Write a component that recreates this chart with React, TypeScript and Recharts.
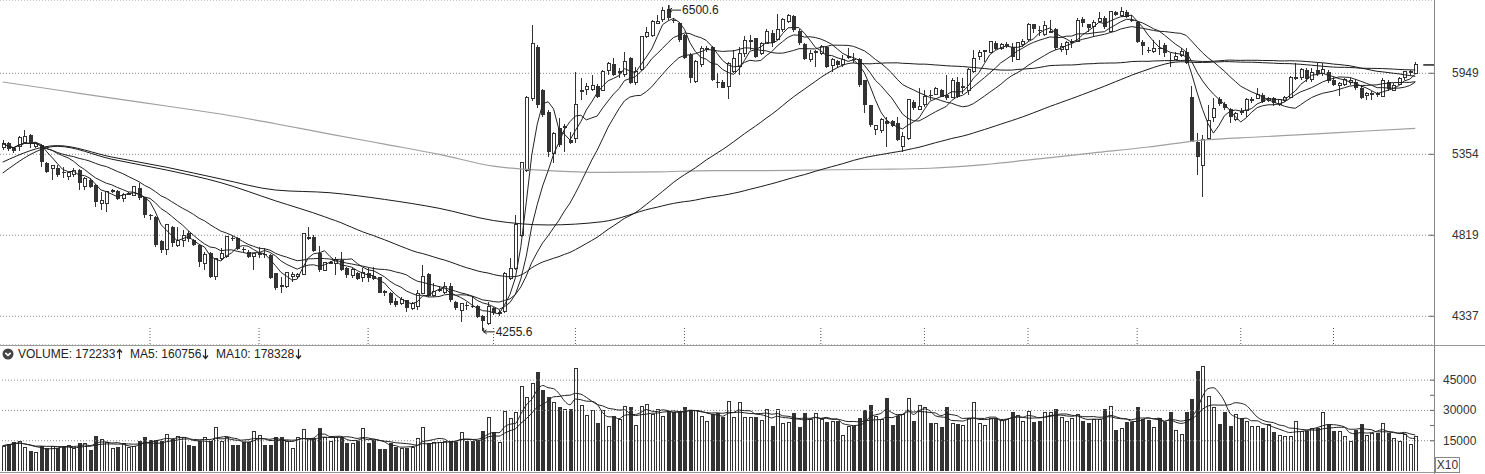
import React from 'react';
import {
  ComposedChart,
  Bar,
  Line,
  XAxis,
  YAxis,
  CartesianGrid,
  ReferenceLine,
  ReferenceDot,
} from 'recharts';

// daily candles (260 sessions)
const opens = [
  5400, 5430, 5395, 5412, 5436, 5490, 5408, 5419, 5292, 5253,
  5258, 5230, 5205, 5212, 5246, 5133, 5178, 5144, 5023, 5020,
  5100, 5105, 5056, 5088, 5078, 5122, 5063, 4945, 4937, 4785,
  4728, 4874, 4755, 4789, 4833, 4789, 4759, 4646, 4707, 4570,
  4676, 4687, 4802, 4799, 4732, 4718, 4687, 4700, 4706, 4697,
  4586, 4515, 4507, 4566, 4566, 4582, 4803, 4806, 4707, 4606,
  4650, 4646, 4666, 4616, 4576, 4590, 4562, 4590, 4570, 4562,
  4484, 4469, 4425, 4407, 4430, 4382, 4391, 4469, 4582, 4453,
  4486, 4475, 4510, 4420, 4372, 4403, 4395, 4395, 4338, 4297,
  4382, 4350, 4363, 4556, 4616, 4820, 5241, 5758, 6159, 5821,
  5660, 5361, 5538, 5545, 5455, 5467, 5815, 5823, 5823, 5853,
  5821, 5970, 6022, 5960, 5936, 6066, 5880, 5975, 6240, 6250,
  6350, 6376, 6465, 6378, 6348, 6253, 6092, 5885, 6014, 6137,
  6155, 5880, 5884, 5850, 5962, 6001, 6105, 6200, 6225, 6105,
  6185, 6270, 6217, 6294, 6362, 6408, 6288, 6180, 6058, 6118,
  6105, 6155, 6006, 6047, 6014, 6073, 6060, 6058, 5897, 5709,
  5530, 5521, 5588, 5588, 5580, 5408, 5467, 5734, 5672, 5709,
  5785, 5790, 5818, 5783, 5765, 5885, 5845, 5821, 5962, 6079,
  6120, 6113, 6190, 6145, 6165, 6159, 6060, 6180, 6217, 6340,
  6296, 6253, 6275, 6303, 6138, 6138, 6195, 6204, 6381, 6340,
  6323, 6362, 6395, 6280, 6445, 6417, 6445, 6378, 6356, 6198,
  6135, 6118, 6146, 6172, 6055, 6058, 6088, 6118, 5771, 5443,
  5280, 5467, 5620, 5751, 5716, 5677, 5605, 5667, 5667, 5748,
  5758, 5783, 5741, 5758, 5716, 5741, 5765, 5918, 5913, 5975,
  5900, 5975, 5944, 5962, 5897, 5859, 5864, 5877, 5885, 5840,
  5783, 5795, 5796, 5771, 5885, 5821, 5864, 5913, 5960, 5949,
];

const highs = [
  5455, 5440, 5405, 5480, 5526, 5495, 5440, 5425, 5300, 5282,
  5280, 5269, 5232, 5258, 5250, 5195, 5190, 5150, 5100, 5105,
  5115, 5110, 5090, 5100, 5140, 5160, 5065, 4955, 4940, 4790,
  4890, 4880, 4874, 4852, 4843, 4795, 4765, 4718, 4715, 4680,
  4738, 4815, 4815, 4810, 4745, 4728, 4712, 4749, 4738, 4700,
  4590, 4566, 4595, 4596, 4590, 4834, 4874, 4820, 4755, 4655,
  4660, 4687, 4718, 4626, 4616, 4596, 4616, 4616, 4626, 4566,
  4490, 4475, 4440, 4449, 4432, 4420, 4488, 4636, 4590, 4527,
  4510, 4537, 4527, 4425, 4412, 4420, 4453, 4400, 4345, 4420,
  4391, 4370, 4596, 4676, 4948, 5303, 5775, 6334, 6170, 5830,
  5672, 5510, 5610, 5572, 5514, 5962, 5910, 5878, 5936, 5867,
  5975, 6040, 6066, 5988, 6118, 6080, 6001, 6245, 6320, 6376,
  6417, 6486, 6500.6, 6390, 6362, 6260, 6105, 6050, 6160, 6160,
  6160, 5948, 5897, 6035, 6132, 6159, 6244, 6253, 6230, 6198,
  6300, 6294, 6430, 6390, 6430, 6417, 6300, 6185, 6132, 6132,
  6172, 6165, 6066, 6053, 6092, 6145, 6105, 6066, 5900, 5712,
  5557, 5610, 5623, 5595, 5623, 5514, 5750, 5746, 5834, 5821,
  5821, 5845, 5830, 5936, 5910, 5923, 5910, 5988, 6132, 6132,
  6130, 6205, 6205, 6185, 6200, 6190, 6195, 6217, 6350, 6345,
  6330, 6368, 6376, 6310, 6190, 6205, 6217, 6390, 6397, 6345,
  6376, 6445, 6408, 6455, 6455, 6486, 6459, 6417, 6365, 6212,
  6159, 6212, 6212, 6185, 6105, 6118, 6145, 6145, 5851, 5502,
  5490, 5709, 5758, 5770, 5734, 5690, 5660, 5685, 5758, 5770,
  5840, 5795, 5765, 5770, 5756, 5775, 5926, 6030, 5988, 5988,
  5988, 6030, 6030, 5975, 5923, 5885, 5915, 5910, 5902, 5851,
  5808, 5815, 5808, 5910, 5897, 5872, 5923, 5970, 5975, 6035,
];

const lows = [
  5385, 5375, 5365, 5375, 5430, 5396, 5400, 5269, 5228, 5178,
  5200, 5190, 5178, 5200, 5111, 5111, 5122, 5001, 4980, 4969,
  5090, 5045, 5034, 5080, 5075, 5045, 4927, 4916, 4749, 4707,
  4697, 4749, 4749, 4745, 4780, 4755, 4626, 4606, 4556, 4547,
  4666, 4680, 4785, 4728, 4712, 4680, 4606, 4676, 4676, 4550,
  4488, 4472, 4500, 4537, 4560, 4576, 4789, 4718, 4597, 4600,
  4640, 4576, 4600, 4556, 4556, 4545, 4537, 4537, 4547, 4468,
  4453, 4401, 4391, 4401, 4363, 4375, 4372, 4465, 4450, 4449,
  4475, 4466, 4420, 4375, 4306, 4372, 4382, 4330, 4255.6, 4288,
  4344, 4340, 4355, 4547, 4606, 4810, 5230, 5740, 5690, 5623,
  5338, 5292, 5408, 5370, 5425, 5430, 5746, 5785, 5810, 5758,
  5810, 5936, 5928, 5910, 5923, 5865, 5859, 5965, 6225, 6240,
  6343, 6362, 6380, 6350, 6200, 6060, 5872, 5878, 6001, 6118,
  5890, 5833, 5833, 5751, 5948, 5936, 6079, 6132, 6066, 6092,
  6180, 6159, 6212, 6280, 6350, 6280, 6172, 6055, 6040, 6001,
  6092, 5988, 5962, 5988, 6001, 6058, 6027, 5846, 5647, 5550,
  5490, 5502, 5408, 5545, 5450, 5372, 5455, 5672, 5670, 5697,
  5746, 5780, 5765, 5746, 5758, 5758, 5790, 5783, 5948, 6053,
  6040, 6105, 6132, 6135, 6150, 6040, 6055, 6159, 6207, 6270,
  6248, 6245, 6265, 6132, 6120, 6092, 6145, 6198, 6320, 6280,
  6240, 6356, 6305, 6270, 6408, 6400, 6390, 6356, 6185, 6092,
  6105, 6105, 6092, 6079, 6001, 6050, 6079, 6022, 5440, 5212,
  5067, 5455, 5587, 5702, 5675, 5575, 5590, 5635, 5618, 5722,
  5751, 5722, 5728, 5702, 5702, 5734, 5758, 5897, 5897, 5885,
  5885, 5928, 5928, 5872, 5851, 5775, 5850, 5859, 5821, 5751,
  5746, 5746, 5770, 5765, 5816, 5816, 5859, 5897, 5936, 5943,
];

const closes = [
  5430, 5390, 5380, 5474, 5483, 5426, 5431, 5303, 5234, 5276,
  5212, 5223, 5228, 5242, 5156, 5190, 5133, 5034, 5045, 5100,
  5106, 5050, 5084, 5090, 5133, 5056, 4948, 4942, 4759, 4728,
  4884, 4769, 4785, 4820, 4795, 4759, 4656, 4697, 4566, 4676,
  4707, 4810, 4797, 4732, 4728, 4687, 4707, 4703, 4700, 4556,
  4497, 4508, 4590, 4582, 4582, 4830, 4806, 4724, 4606, 4650,
  4652, 4670, 4606, 4576, 4610, 4551, 4590, 4556, 4555, 4472,
  4470, 4411, 4401, 4434, 4382, 4411, 4469, 4570, 4453, 4478,
  4490, 4510, 4430, 4382, 4407, 4398, 4392, 4335, 4311, 4395,
  4353, 4358, 4586, 4616, 4884, 5296, 5766, 6185, 5705, 5635,
  5372, 5502, 5419, 5550, 5431, 5709, 5821, 5846, 5853, 5770,
  5962, 6027, 5936, 5962, 6040, 5872, 5962, 6237, 6270, 6362,
  6362, 6459, 6390, 6372, 6212, 6066, 5910, 6040, 6140, 6140,
  5897, 5877, 5840, 6022, 6066, 6105, 6212, 6207, 6079, 6185,
  6280, 6190, 6294, 6376, 6417, 6294, 6185, 6060, 6105, 6120,
  6159, 6001, 6058, 6014, 6058, 6080, 6058, 5859, 5709, 5562,
  5555, 5603, 5572, 5555, 5455, 5483, 5746, 5685, 5697, 5770,
  5783, 5834, 5770, 5758, 5897, 5770, 5848, 5975, 6066, 6110,
  6125, 6200, 6142, 6172, 6180, 6079, 6190, 6198, 6340, 6305,
  6292, 6334, 6278, 6145, 6159, 6190, 6198, 6370, 6353, 6312,
  6359, 6390, 6320, 6445, 6417, 6445, 6403, 6376, 6198, 6163,
  6128, 6145, 6144, 6105, 6053, 6079, 6118, 6027, 5443, 5338,
  5455, 5598, 5685, 5716, 5690, 5620, 5647, 5648, 5746, 5752,
  5790, 5734, 5758, 5722, 5746, 5765, 5915, 5920, 5975, 5905,
  5955, 5944, 5975, 5887, 5859, 5872, 5900, 5897, 5834, 5758,
  5796, 5797, 5783, 5897, 5826, 5859, 5910, 5962, 5963, 6014,
];

const volumes = [
  125500, 133700, 145000, 150000, 117000, 101000, 92600, 122000, 112000, 125000,
  114000, 125000, 130000, 114000, 139000, 139000, 106000, 175000, 158000, 142000,
  112000, 117000, 137000, 117000, 125000, 150000, 167000, 153000, 153500, 150200,
  183000, 158000, 175000, 167000, 130000, 125500, 150200, 167000, 150200, 219000,
  150200, 170000, 130000, 130000, 142000, 145000, 200000, 180000, 130000, 130000,
  170000, 167000, 150200, 112000, 167000, 208000, 163000, 163000, 213000, 167000,
  147000, 167000, 167000, 137000, 137000, 150200, 213000, 137000, 153500, 109000,
  109000, 137000, 121000, 114000, 114000, 118000, 163000, 219000, 137000, 142000,
  145000, 147000, 147000, 145000, 195000, 147000, 147000, 150200, 196000, 269000,
  191000, 142000, 295000, 262000, 290000, 422000, 368000, 435000, 491000, 402000,
  368000, 343000, 315000, 307000, 307000, 509000, 328000, 279000, 302000, 236000,
  302000, 224000, 274000, 257000, 323000, 318000, 229000, 323000, 331000, 282000,
  307000, 274000, 298000, 290000, 290000, 315000, 302000, 302000, 274000, 246000,
  282000, 285000, 269000, 348000, 266000, 343000, 269000, 266000, 266000, 252000,
  307000, 224000, 307000, 236000, 241000, 285000, 216000, 285000, 257000, 289000,
  257000, 241000, 249000, 249000, 180000, 224000, 224000, 262000, 303000, 328000,
  274000, 257000, 361000, 229000, 274000, 282000, 364000, 249000, 328000, 315000,
  238000, 238000, 219000, 318000, 238000, 233000, 228000, 262000, 343000, 238000,
  230000, 262000, 262000, 254000, 257000, 290000, 279000, 249000, 298000, 241000,
  249000, 293000, 293000, 308000, 269000, 249000, 261000, 282000, 249000, 236000,
  257000, 257000, 308000, 323000, 205000, 213000, 244000, 244000, 318000, 257000,
  254000, 219000, 261000, 241000, 290000, 203000, 183000, 293000, 358000, 496000,
  521000, 373000, 315000, 232000, 290000, 224000, 282000, 265000, 249000, 224000,
  224000, 213000, 232000, 192000, 178000, 175000, 175000, 249000, 200000, 200000,
  213000, 213000, 293000, 232000, 196000, 196000, 175000, 150000, 203000, 232000,
  180000, 186000, 187000, 240000, 186500, 165000, 150000, 185000, 131547, 172233,
];

// long averages where the window reaches back before the first candle:
// values at every 10th session
const ma60Lead = [5225, 5410, 5320, 5246, 5160, 5040];
const ma120Lead = [5300, 5415, 5335, 5265, 5185, 5111, 5093, 5049, 4991, 4912, 4884, 4905];
const ma250Idx = [0, 10, 20, 30, 40, 50, 60, 70, 80, 90, 100, 110, 120, 130, 140, 150, 160, 170, 180, 190, 200, 210, 220, 230, 240, 250, 259];
const ma250Read = [5882, 5821, 5760, 5701, 5642, 5571, 5497, 5425, 5354, 5272, 5242, 5230, 5233, 5242, 5242, 5246, 5251, 5258, 5283, 5323, 5364, 5405, 5454, 5476, 5496, 5519, 5537];

const monthTicks = [27, 47, 67, 90, 105, 125, 150, 169, 188, 208, 227, 244];
const priceTicks = [4337, 4819, 5354, 5949];
const volumeTicks = [150000, 225000, 300000, 375000, 450000];
const volumeLabelTicks = [150000, 300000, 450000];

const INK = '#333';
const FONT = '"Liberation Sans", Arial, sans-serif';
const AXIS_W = 51;
const PAD_RIGHT = 16;

function movingAverage(values: number[], n: number, lead?: number[]) {
  return values.map((_, i) => {
    if (i >= n - 1) {
      let s = 0;
      for (let k = i - n + 1; k <= i; k++) s += values[k];
      return s / n;
    }
    if (lead) return i % 10 === 0 && lead[i / 10] != null ? lead[i / 10] : null;
    let s = 0;
    for (let k = 0; k <= i; k++) s += values[k];
    return s / (i + 1);
  });
}

const ma5 = movingAverage(closes, 5);
const ma10 = movingAverage(closes, 10);
const ma20 = movingAverage(closes, 20);
const ma60 = movingAverage(closes, 60, ma60Lead);
const ma120 = movingAverage(closes, 120, ma120Lead);
const vma5 = movingAverage(volumes, 5);
const vma10 = movingAverage(volumes, 10);

const rows = closes.map((c, i) => {
  const k = ma250Idx.indexOf(i);
  return {
    idx: i,
    open: opens[i],
    high: highs[i],
    low: lows[i],
    close: c,
    range: [lows[i], highs[i]],
    up: c >= opens[i],
    ma5: ma5[i],
    ma10: ma10[i],
    ma20: ma20[i],
    ma60: ma60[i],
    ma120: ma120[i],
    ma250: k >= 0 ? ma250Read[k] : null,
    vol: volumes[i],
    vma5: vma5[i],
    vma10: vma10[i],
  };
});

const last = rows.length - 1;

function Candle(props: any) {
  const { x, y, width, height, payload } = props;
  if (!payload || !isFinite(y) || !isFinite(height)) return null;
  const { open, close, high, low } = payload;
  const cx = Math.round(x + width / 2);
  const lh = Math.log(high);
  const span = lh - Math.log(low) || 1;
  const py = (v: number) => y + ((lh - Math.log(v)) / span) * height;
  const top = py(Math.max(open, close));
  let bot = py(Math.min(open, close));
  if (bot - top < 1) bot = top + 1;
  const up = close >= open;
  return (
    <g shapeRendering="crispEdges">
      <line x1={cx + 0.5} x2={cx + 0.5} y1={y} y2={y + height} stroke={INK} />
      {up ? (
        <rect x={cx - 1} y={top} width={3} height={bot - top} fill="#fff" stroke={INK} />
      ) : (
        <rect x={cx - 1.5} y={top} width={4} height={bot - top} fill={INK} />
      )}
    </g>
  );
}

function VolumeBar(props: any) {
  const { x, y, width, height, payload } = props;
  if (!payload || !isFinite(y) || !isFinite(height)) return null;
  const cx = Math.round(x + width / 2);
  return payload.up ? (
    <rect x={cx - 1} y={y + 0.5} width={3} height={Math.max(height - 0.5, 0)} fill="#fff" stroke={INK} shapeRendering="crispEdges" />
  ) : (
    <rect x={cx - 1.5} y={y} width={4} height={height} fill={INK} shapeRendering="crispEdges" />
  );
}

function MonthTick({ x, y }: any) {
  return <line x1={x} x2={x} y1={y - 17} y2={y} stroke="#555" strokeDasharray="1 2" />;
}

function PriceTick({ x, y, payload }: any) {
  return (
    <g>
      <line x1={x - 5} x2={x} y1={y} y2={y} stroke="#666" />
      <text x={x + 18} y={y + 4} fontSize={12} fontFamily={FONT} fill={INK}>
        {payload.value}
      </text>
    </g>
  );
}

function VolumeTick({ x, y, payload }: any) {
  const labelled = volumeLabelTicks.includes(payload.value);
  return (
    <g>
      <line x1={x - 4} x2={x} y1={y} y2={y} stroke="#666" />
      {labelled && (
        <text x={x + 9} y={y + 4} fontSize={12} fontFamily={FONT} fill={INK}>
          {payload.value / 10}
        </text>
      )}
    </g>
  );
}

function HighMark({ cx, cy }: any) {
  return (
    <g stroke="#222" fill="none">
      <path d={`M${cx + 1},${cy} V${cy + 5} H${cx + 13}`} />
      <path d={`M${cx + 4},${cy + 3} L${cx + 1},${cy + 5} L${cx + 4},${cy + 7}`} />
      <text x={cx + 14} y={cy + 9} fontSize={12} fontFamily={FONT} fill="#222" stroke="none">
        6500.6
      </text>
    </g>
  );
}

function LowMark({ cx, cy }: any) {
  return (
    <g stroke="#222" fill="none">
      <path d={`M${cx + 1},${cy - 3} V${cy + 1} H${cx + 12}`} />
      <path d={`M${cx + 4},${cy - 1} L${cx + 1},${cy + 1} L${cx + 4},${cy + 3}`} />
      <text x={cx + 13} y={cy + 5} fontSize={12} fontFamily={FONT} fill="#222" stroke="none">
        4255.6
      </text>
    </g>
  );
}

function LastMark({ cx, cy }: any) {
  return <line x1={cx + 8} x2={cx + 19} y1={cy} y2={cy} stroke="#222" strokeWidth={1.5} />;
}

// thin tall arrow like the one in the volume header
function Arrow({ up }: { up: boolean }) {
  return (
    <svg width={7} height={12} style={{ marginLeft: 1 }}>
      {up ? (
        <path d="M3.5 11 V1.5 M1 4.5 L3.5 1.5 L6 4.5" stroke="#222" strokeWidth={1.2} fill="none" />
      ) : (
        <path d="M3.5 1 V10.5 M1 7.5 L3.5 10.5 L6 7.5" stroke="#222" strokeWidth={1.2} fill="none" />
      )}
    </svg>
  );
}

const fmt = (v: number) => String(Math.round(v));

const lineProps = { dot: false, activeDot: false, isAnimationActive: false } as const;

const header = [
  { left: 18, text: `VOLUME: ${fmt(volumes[last])}`, up: true },
  { left: 130, text: `MA5: ${fmt(vma5[last] as number)}`, up: false },
  { left: 216, text: `MA10: ${fmt(vma10[last] as number)}`, up: false },
];

export default function App() {
  return (
    <div
      style={{
        position: 'absolute',
        left: 0,
        top: 0,
        width: 1485,
        height: 474,
        background: '#fff',
        overflow: 'hidden',
        fontFamily: FONT,
        pointerEvents: 'none',
      }}
    >
      <div style={{ position: 'absolute', left: 0, top: 0 }}>
        <ComposedChart width={1485} height={346} data={rows} margin={{ top: 0, right: 0, bottom: 0, left: 0 }}>
          <CartesianGrid vertical={false} stroke="#8a8a8a" strokeDasharray="1 2" />
          <XAxis
            dataKey="idx"
            type="category"
            height={1}
            padding={{ left: 0, right: PAD_RIGHT }}
            axisLine={false}
            tickLine={false}
            tickSize={0}
            tickMargin={0}
            ticks={monthTicks}
            interval={0}
            tick={<MonthTick />}
          />
          <YAxis
            orientation="right"
            width={AXIS_W}
            type="number"
            scale="log"
            domain={[4178, 6544]}
            allowDataOverflow
            ticks={priceTicks}
            interval={0}
            axisLine={false}
            tickLine={false}
            tickSize={0}
            tickMargin={0}
            tick={<PriceTick />}
          />
          <Bar dataKey="range" shape={<Candle />} isAnimationActive={false} />
          <Line type="monotone" dataKey="ma250" stroke="#a0a0a0" strokeWidth={1.2} connectNulls {...lineProps} />
          <Line type="monotone" dataKey="ma120" stroke="#1a1a1a" strokeWidth={1} connectNulls {...lineProps} />
          <Line type="monotone" dataKey="ma60" stroke="#1a1a1a" strokeWidth={1} connectNulls {...lineProps} />
          <Line type="linear" dataKey="ma20" stroke="#222" strokeWidth={1} {...lineProps} />
          <Line type="linear" dataKey="ma10" stroke="#222" strokeWidth={1} {...lineProps} />
          <Line type="linear" dataKey="ma5" stroke="#222" strokeWidth={1} {...lineProps} />
          <ReferenceDot x={122} y={6500.6} shape={(p: any) => <HighMark {...p} />} />
          <ReferenceDot x={88} y={4255.6} shape={(p: any) => <LowMark {...p} />} />
          <ReferenceDot x={last} y={closes[last]} shape={(p: any) => <LastMark {...p} />} />
        </ComposedChart>
      </div>

      <div style={{ position: 'absolute', left: 0, top: 345, width: 1485, height: 1, background: '#999' }} />

      <div style={{ position: 'absolute', left: 0, top: 345 }}>
        <ComposedChart width={1485} height={129} data={rows} margin={{ top: 17, right: 0, bottom: 3, left: 0 }}>
          <XAxis dataKey="idx" type="category" hide height={0} padding={{ left: 0, right: PAD_RIGHT }} />
          <YAxis
            orientation="right"
            width={AXIS_W}
            type="number"
            domain={[0, 540000]}
            allowDataOverflow
            ticks={volumeTicks}
            interval={0}
            axisLine={false}
            tickLine={false}
            tickSize={0}
            tickMargin={0}
            tick={<VolumeTick />}
          />
          {volumeLabelTicks.map((v) => (
            <ReferenceLine key={v} y={v} stroke="#8a8a8a" strokeDasharray="1 2" />
          ))}
          <Bar dataKey="vol" shape={<VolumeBar />} isAnimationActive={false} />
          <Line type="monotone" dataKey="vma5" stroke="#222" strokeWidth={1} {...lineProps} />
          <Line type="monotone" dataKey="vma10" stroke="#222" strokeWidth={1} {...lineProps} />
        </ComposedChart>
      </div>

      <svg width={12} height={12} style={{ position: 'absolute', left: 2, top: 348 }}>
        <circle cx={6} cy={6} r={5.5} fill="#444" />
        <path d="M3.3 4.8 L6 7.4 L8.7 4.8" stroke="#fff" strokeWidth={1.6} fill="none" />
      </svg>
      {header.map((h) => (
        <div
          key={h.left}
          style={{
            position: 'absolute',
            left: h.left,
            top: 347,
            height: 14,
            display: 'flex',
            alignItems: 'center',
            fontSize: 12,
            color: '#222',
            whiteSpace: 'pre',
          }}
        >
          <span>{h.text}</span>
          <Arrow up={h.up} />
        </div>
      ))}

      <div style={{ position: 'absolute', left: 1434, top: 0, width: 1, height: 474, background: '#888' }} />
      <div style={{ position: 'absolute', left: 0, top: 472, width: 1434, height: 1, background: '#999' }} />
      <div
        style={{
          position: 'absolute',
          left: 1435,
          top: 457,
          width: 23,
          height: 14,
          border: '1px solid #888',
          fontSize: 12,
          lineHeight: '14px',
          textAlign: 'center',
          color: INK,
        }}
      >
        X10
      </div>
    </div>
  );
}
